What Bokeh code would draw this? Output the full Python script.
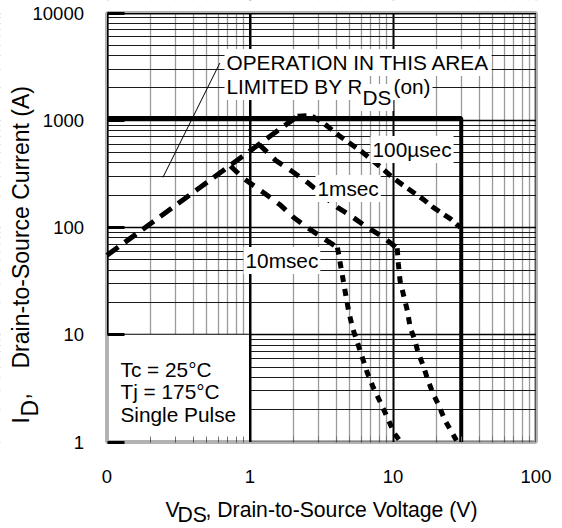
import math
from bokeh.plotting import figure
from bokeh.models import FixedTicker, Label, BoxAnnotation, Span
from bokeh.embed import file_html
from bokeh.resources import INLINE

# ---------------- data ----------------
# shared R_DS(on) limited rising line
rds_v = [0.1, 2.15]
rds_i = [55, 1090]
# 100 usec curve (after the R_DS(on) line)
us100_v = [2.15, 2.66, 3.27, 4.16, 6.1, 8.4, 9.9, 11.8, 16.3, 19.1, 25.1, 29.5]
us100_i = [1090, 1110, 940, 725, 505, 356, 293, 247, 183, 154, 121, 100]
# 1 msec curve
ms1_v = [1.16, 1.51, 2.02, 2.57, 4.09, 5.05, 6.63, 8.57, 10.7]
ms1_i = [595, 423, 326, 258, 154, 129, 100, 81, 64]
ms1_tail_v = [10.7, 10.9, 11.2, 11.8, 12.6, 13.2, 14.1, 15.0, 16.3, 17.4, 19.1, 20.7, 23.2, 26.0, 28.2]
ms1_tail_i = [64, 46, 32, 24, 16.8, 11.6, 9.2, 6.8, 5.1, 3.9, 2.8, 2.27, 1.57, 1.21, 1.0]
# 10 msec curve
ms10_v = [0.73, 0.90, 1.24, 1.64, 2.02, 2.57, 3.27, 4.09]
ms10_i = [375, 287, 212, 161, 124, 98, 79, 65]
ms10_tail_v = [4.09, 4.36, 4.66, 4.89, 5.21, 5.65, 6.11, 6.62, 7.3, 8.2, 9.15, 10.2, 11.3]
ms10_tail_i = [65, 40, 24, 16.8, 11.6, 8.4, 6.1, 4.4, 3.2, 2.31, 1.68, 1.21, 1.0]
# operating-area boundary (thick box)
limit_v = [0.1, 30, 30]
limit_i = [1050, 1050, 1]
# pointer line of the annotation
pointer_v = [0.615, 0.246]
pointer_i = [3410, 293]

x_ticks = [0.1, 1, 10, 100]
x_tick_labels = ["0", "1", "10", "100"]
y_ticks = [1, 10, 100, 1000, 10000]
y_tick_labels = ["1", "10", "100", "1000", "10000"]

# ---------------- layout (canvas pixels) ----------------
W, H = 560, 528
PX0, PXD = 106.5, 143.0     # canvas x of V=0.1, px per decade
PY0, PYD = 441.5, 107.25    # canvas y of I=1, px per decade


def vx(px):
    return 10 ** ((px - PX0) / PXD - 1)


def iy(py):
    return 10 ** ((PY0 - py) / PYD)


XLO, XHI = vx(0), vx(W)
YLO, YHI = iy(H), iy(0)
FONT = "Liberation Sans"

p = figure(width=W, height=H, x_axis_type="log", y_axis_type="log",
           x_range=(XLO, XHI), y_range=(YLO, YHI),
           output_backend="svg", toolbar_location=None, min_border=0)
p.background_fill_color = "white"
p.border_fill_color = "white"
p.outline_line_color = None

minor_x = [m * 10 ** e for e in range(-1, 2) for m in range(2, 10)]
minor_y = [m * 10 ** e for e in range(0, 4) for m in range(2, 10)]
xt = FixedTicker(ticks=x_ticks, minor_ticks=minor_x)
yt = FixedTicker(ticks=y_ticks, minor_ticks=minor_y)
p.xaxis.ticker = xt
p.yaxis.ticker = yt
p.xgrid.ticker = xt
p.ygrid.ticker = yt
p.xaxis.major_label_overrides = {t: l for t, l in zip(x_ticks, x_tick_labels)}
p.yaxis.major_label_overrides = {t: l for t, l in zip(y_ticks, y_tick_labels)}
p.xaxis.fixed_location = 1
p.yaxis.fixed_location = 0.1

for ax in (p.xaxis, p.yaxis):
    ax.axis_line_color = None
    ax.major_tick_out = 0
    ax.minor_tick_out = 0
    ax.major_label_text_font = FONT
    ax.major_label_text_font_size = "18.5px"
    ax.major_label_text_color = "black"
p.xaxis.major_label_standoff = 28
p.yaxis.major_label_standoff = 23
p.xaxis.major_tick_in = 0
p.xaxis.minor_tick_in = 6
p.xaxis.minor_tick_line_color = "#777777"
p.yaxis.major_tick_in = 17
p.yaxis.major_tick_line_width = 3
p.yaxis.major_tick_line_color = "black"
p.yaxis.minor_tick_in = 0

p.xgrid.grid_line_color = "black"
p.xgrid.grid_line_width = 2
p.xgrid.minor_grid_line_color = "#9a9a9a"
p.xgrid.minor_grid_line_width = 1.3
p.ygrid.grid_line_color = "black"
p.ygrid.grid_line_width = 1.5
p.ygrid.minor_grid_line_color = "#1a1a1a"
p.ygrid.minor_grid_line_width = 1

# white box behind the conditions text (grid hidden there), with the V=1 line kept
p.add_layout(BoxAnnotation(left=0.1, right=1, bottom=1, top=10, fill_color="white",
                           fill_alpha=1, line_alpha=0, level="underlay"))
p.add_layout(Span(location=1, dimension="height", line_color="black", line_width=2, level="underlay"))

# mask the grid outside the chart box
for kw in (dict(left=XLO / 2, right=0.1, bottom=YLO / 2, top=YHI * 2),
           dict(left=100, right=XHI * 2, bottom=YLO / 2, top=YHI * 2),
           dict(left=XLO / 2, right=XHI * 2, bottom=YLO / 2, top=1),
           dict(left=XLO / 2, right=XHI * 2, bottom=10000, top=YHI * 2)):
    p.add_layout(BoxAnnotation(fill_color="white", fill_alpha=1, line_alpha=0,
                               level="underlay", **kw))

# boundary and pointer
p.line(limit_v, limit_i, line_color="black", line_width=4)
p.line(pointer_v, pointer_i, line_color="black", line_width=1)

# curves
p.line(rds_v, rds_i, line_color="black", line_width=5, line_dash="14 8")
p.line(us100_v, us100_i, line_color="black", line_width=5, line_dash="9 6")
p.line(ms1_v, ms1_i, line_color="black", line_width=5, line_dash="11 9")
p.line(ms1_tail_v, ms1_tail_i, line_color="black", line_width=5, line_dash="7 7")
p.line(ms10_v, ms10_i, line_color="black", line_width=5, line_dash="11 9")
p.line(ms10_tail_v, ms10_tail_i, line_color="black", line_width=5, line_dash="7 7")

# chart box outline
p.add_layout(BoxAnnotation(left=0.1, right=100, bottom=1, top=10000, fill_alpha=0,
                           line_color="black", line_width=4))


def txt(s, px, py, size="20.8px", angle=0, bg=False):
    kw = dict(x=vx(px), y=iy(py), text=s, text_font=FONT, text_font_size=size,
              text_color="black", text_align="left", text_baseline="middle", angle=angle)
    if bg:
        kw.update(x=vx(px - 2), background_fill_color="white", background_fill_alpha=1.0, padding=2)
    p.add_layout(Label(**kw))


# in-plot annotations
txt("OPERATION IN THIS AREA", 226, 62, bg=True)
txt("LIMITED BY R", 226, 86, bg=True)
txt("DS", 362, 97, bg=True)
txt("(on)", 393, 86, bg=True)
txt("100\u00b5sec", 372, 149, bg=True)
txt("1msec", 317, 188, bg=True)
txt("10msec", 245, 260, bg=True)
txt("Tc = 25\u00b0C", 120, 369)
txt("Tj = 175\u00b0C", 120, 391)
txt("Single Pulse", 120, 414)

# axis titles (with subscripts)
txt("V", 165, 509, size="21.2px")
txt("DS", 177, 514, size="21.2px")
txt(", Drain-to-Source Voltage (V)", 205, 509, size="21.2px")

ang = math.pi / 2
txt("I", 20, 423, size="23px", angle=ang)
txt("D", 29, 416, size="23px", angle=ang)
txt(",", 20, 399, size="23px", angle=ang)
txt("Drain-to-Source Current (A)", 20, 368, size="23px", angle=ang)

open("out.html", "w").write(file_html(p, INLINE))
